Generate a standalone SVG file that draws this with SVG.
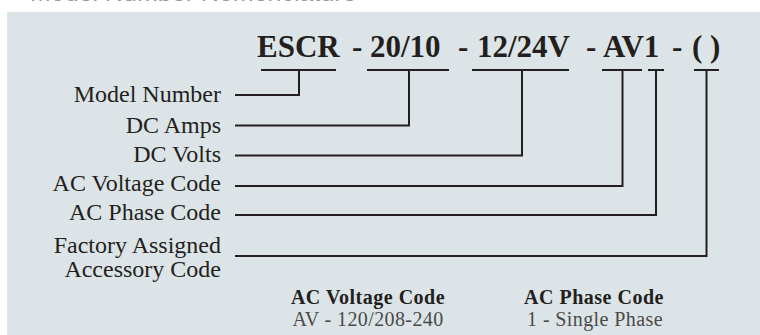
<svg xmlns="http://www.w3.org/2000/svg" width="760" height="335" viewBox="0 0 760 335">
<style>
.title{font-family:"Liberation Sans","DejaVu Sans",sans-serif;font-size:25px;fill:#999999}
.hdr{font-family:"Liberation Serif","DejaVu Serif",serif;font-weight:bold;font-size:31px;fill:#231f20}
.lbl{font-family:"Liberation Serif","DejaVu Serif",serif;font-size:24px;fill:#231f20;text-anchor:end}
.lgh{font-family:"Liberation Serif","DejaVu Serif",serif;font-weight:bold;font-size:20px;letter-spacing:0.5px;fill:#231f20;text-anchor:middle}
.lgt{font-family:"Liberation Serif","DejaVu Serif",serif;font-size:20px;letter-spacing:0.4px;fill:#4a4a4a;text-anchor:middle}
.ln{fill:none;stroke:#231f20;stroke-width:2}
</style>
<rect x="7" y="12" width="753" height="323" fill="#dce4e7"/>
<text class="title" x="30" y="1">Model Number Nomenclature</text>
<g id="model-code">
<text class="hdr" y="57"><tspan x="257">ESCR</tspan><tspan x="352">-</tspan><tspan x="370">20/10</tspan><tspan x="458">-</tspan><tspan x="477">12/24V</tspan><tspan x="586">-</tspan><tspan x="603">AV1</tspan><tspan x="672">-</tspan><tspan x="692">( )</tspan></text>
</g>
<g id="label-model-number"><text class="lbl" x="221" y="102">Model Number</text></g>
<g id="label-dc-amps"><text class="lbl" x="221" y="133">DC Amps</text></g>
<g id="label-dc-volts"><text class="lbl" x="221" y="162">DC Volts</text></g>
<g id="label-ac-voltage"><text class="lbl" x="221" y="191">AC Voltage Code</text></g>
<g id="label-ac-phase"><text class="lbl" x="221" y="219.5">AC Phase Code</text></g>
<g id="label-accessory"><text class="lbl" x="221" y="253">Factory Assigned</text><text class="lbl" x="221" y="277">Accessory Code</text></g>
<g id="legend-ac-voltage"><text class="lgh" x="368" y="304">AC Voltage Code</text><text class="lgt" x="368" y="326">AV - 120/208-240</text></g>
<g id="legend-ac-phase"><text class="lgh" x="594" y="304">AC Phase Code</text><text class="lgt" x="595" y="326">1 - Single Phase</text></g>
<g id="connectors">
<path class="ln" d="M261,70H336M299,70V95H235"/>
<path class="ln" d="M367,70H449M409,70V125.5H235"/>
<path class="ln" d="M472,70H569M522,70V155.5H235"/>
<path class="ln" d="M602,70H642M622.5,70V186H235"/>
<path class="ln" d="M648,70H664M656,70V215H235"/>
<path class="ln" d="M694,70H719M706.5,70V256H235"/>
</g>
</svg>
